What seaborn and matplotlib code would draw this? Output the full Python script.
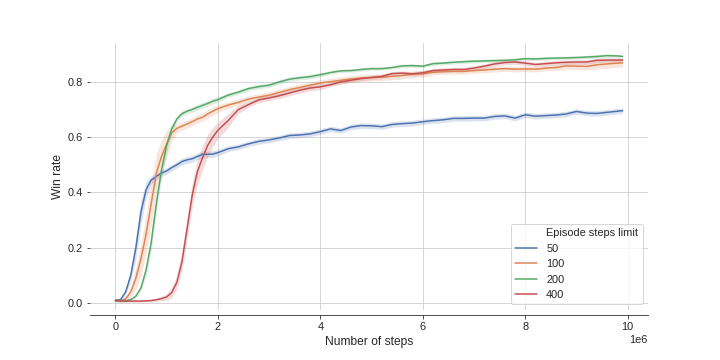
import numpy as np
import pandas as pd
import matplotlib
matplotlib.use("Agg")
import matplotlib.pyplot as plt
from matplotlib.lines import Line2D
import seaborn as sns

# training steps (millions)
steps_m = [0.0, 0.1, 0.2, 0.3, 0.4, 0.5, 0.6, 0.7, 0.8, 0.9, 1.0,
           1.1, 1.2, 1.3, 1.4, 1.5, 1.6, 1.7, 1.8, 1.9, 2.0,
           2.2, 2.4, 2.6, 2.8, 3.0, 3.2, 3.4, 3.6, 3.8, 4.0,
           4.2, 4.4, 4.6, 4.8, 5.0, 5.2, 5.4, 5.6, 5.8, 6.0,
           6.2, 6.4, 6.6, 6.8, 7.0, 7.2, 7.4, 7.6, 7.8, 8.0,
           8.2, 8.4, 8.6, 8.8, 9.0, 9.2, 9.4, 9.6, 9.8, 9.9]

limits = ["50", "100", "200", "400"]

win_50 = [0.010, 0.012, 0.040, 0.100, 0.200, 0.330, 0.410, 0.445, 0.458, 0.470, 0.478,
          0.490, 0.500, 0.512, 0.518, 0.522, 0.530, 0.538, 0.538, 0.539, 0.544,
          0.558, 0.565, 0.576, 0.585, 0.590, 0.597, 0.606, 0.608, 0.612, 0.620,
          0.630, 0.624, 0.637, 0.642, 0.641, 0.638, 0.646, 0.649, 0.651, 0.656,
          0.660, 0.663, 0.668, 0.668, 0.669, 0.669, 0.675, 0.677, 0.669, 0.681,
          0.676, 0.678, 0.680, 0.684, 0.693, 0.687, 0.686, 0.690, 0.694, 0.696]
win_100 = [0.008, 0.008, 0.015, 0.040, 0.090, 0.160, 0.250, 0.360, 0.470, 0.530, 0.575,
           0.615, 0.632, 0.640, 0.648, 0.656, 0.666, 0.672, 0.684, 0.694, 0.703,
           0.716, 0.726, 0.738, 0.745, 0.752, 0.762, 0.772, 0.780, 0.788, 0.796,
           0.801, 0.806, 0.811, 0.814, 0.816, 0.817, 0.820, 0.823, 0.828, 0.829,
           0.835, 0.837, 0.838, 0.838, 0.841, 0.843, 0.846, 0.848, 0.846, 0.847,
           0.846, 0.850, 0.852, 0.858, 0.857, 0.856, 0.862, 0.865, 0.868, 0.869]
win_200 = [0.008, 0.008, 0.008, 0.012, 0.025, 0.055, 0.120, 0.220, 0.360, 0.480, 0.570,
           0.630, 0.666, 0.685, 0.694, 0.700, 0.708, 0.715, 0.722, 0.730, 0.736,
           0.752, 0.763, 0.776, 0.783, 0.788, 0.800, 0.810, 0.815, 0.819, 0.826,
           0.834, 0.840, 0.841, 0.845, 0.848, 0.848, 0.852, 0.858, 0.859, 0.857,
           0.866, 0.868, 0.871, 0.873, 0.875, 0.876, 0.877, 0.878, 0.880, 0.884,
           0.883, 0.885, 0.886, 0.887, 0.888, 0.890, 0.892, 0.895, 0.894, 0.892]
win_400 = [0.010, 0.008, 0.007, 0.007, 0.007, 0.007, 0.008, 0.009, 0.012, 0.016, 0.022,
           0.038, 0.075, 0.150, 0.270, 0.390, 0.475, 0.525, 0.570, 0.600, 0.625,
           0.660, 0.700, 0.718, 0.735, 0.742, 0.750, 0.760, 0.770, 0.778, 0.782,
           0.790, 0.800, 0.806, 0.812, 0.816, 0.820, 0.830, 0.832, 0.829, 0.833,
           0.841, 0.843, 0.845, 0.845, 0.850, 0.857, 0.865, 0.870, 0.872, 0.868,
           0.863, 0.866, 0.869, 0.871, 0.872, 0.872, 0.878, 0.879, 0.879, 0.879]

# half-width of the shaded confidence band
band_50 = [0.005, 0.005, 0.008, 0.020, 0.040, 0.045, 0.030, 0.015, 0.012, 0.012, 0.012,
           0.012, 0.012, 0.012, 0.012, 0.012, 0.012, 0.012, 0.012, 0.012, 0.012,
           0.010, 0.010, 0.010, 0.010, 0.010, 0.010, 0.010, 0.010, 0.010, 0.010,
           0.010, 0.010, 0.010, 0.010, 0.010, 0.010, 0.010, 0.010, 0.010, 0.010,
           0.010, 0.010, 0.010, 0.010, 0.010, 0.010, 0.010, 0.010, 0.010, 0.010,
           0.010, 0.010, 0.010, 0.010, 0.010, 0.010, 0.010, 0.010, 0.010, 0.010]
band_100 = [0.005, 0.005, 0.008, 0.020, 0.040, 0.060, 0.070, 0.080, 0.070, 0.060, 0.050,
            0.030, 0.015, 0.015, 0.015, 0.015, 0.015, 0.015, 0.015, 0.015, 0.015,
            0.012, 0.012, 0.012, 0.012, 0.012, 0.012, 0.012, 0.012, 0.012, 0.012,
            0.012, 0.012, 0.012, 0.012, 0.012, 0.012, 0.012, 0.012, 0.012, 0.012,
            0.010, 0.010, 0.010, 0.010, 0.010, 0.010, 0.010, 0.010, 0.010, 0.010,
            0.010, 0.010, 0.010, 0.012, 0.012, 0.012, 0.015, 0.015, 0.015, 0.015]
band_200 = [0.004, 0.004, 0.004, 0.004, 0.006, 0.010, 0.020, 0.030, 0.030, 0.030, 0.025,
            0.015, 0.010, 0.010, 0.010, 0.010, 0.010, 0.010, 0.010, 0.010, 0.010,
            0.008, 0.008, 0.008, 0.008, 0.008, 0.008, 0.008, 0.008, 0.008, 0.008,
            0.006, 0.006, 0.006, 0.006, 0.006, 0.006, 0.006, 0.006, 0.006, 0.006,
            0.006, 0.006, 0.006, 0.006, 0.006, 0.006, 0.006, 0.006, 0.006, 0.006,
            0.006, 0.006, 0.006, 0.006, 0.006, 0.006, 0.006, 0.006, 0.006, 0.006]
band_400 = [0.004, 0.004, 0.004, 0.004, 0.004, 0.004, 0.004, 0.005, 0.006, 0.008, 0.012,
            0.020, 0.025, 0.035, 0.040, 0.045, 0.045, 0.045, 0.040, 0.035, 0.030,
            0.025, 0.015, 0.010, 0.010, 0.010, 0.010, 0.010, 0.010, 0.010, 0.010,
            0.008, 0.008, 0.008, 0.008, 0.008, 0.008, 0.008, 0.008, 0.008, 0.008,
            0.008, 0.008, 0.008, 0.008, 0.008, 0.008, 0.008, 0.008, 0.008, 0.008,
            0.008, 0.008, 0.008, 0.008, 0.008, 0.008, 0.008, 0.008, 0.008, 0.008]

means = [win_50, win_100, win_200, win_400]
bands = [band_50, band_100, band_200, band_400]

steps = np.array(steps_m) * 1e6
df = pd.concat([
    pd.DataFrame({"steps": steps, "win": m, "lo": np.array(m) - np.array(b),
                  "hi": np.array(m) + np.array(b), "limit": lim})
    for lim, m, b in zip(limits, means, bands)
], ignore_index=True)

sns.set_style("ticks", {"axes.grid": True})
plt.rcParams["font.family"] = ["Liberation Sans", "DejaVu Sans"]
plt.rcParams["font.size"] = 11
palette = sns.color_palette("deep", 4)

fig = plt.figure(figsize=(10, 5), dpi=72)
ax = fig.add_axes([0.125, 0.139, 0.775, 0.741])

sns.lineplot(data=df, x="steps", y="win", hue="limit", hue_order=limits,
             palette=palette, linewidth=1.5, ax=ax)
for lim, c in zip(limits, palette):
    d = df[df["limit"] == lim]
    ax.fill_between(d["steps"], d["lo"], d["hi"], color=c, alpha=0.2, linewidth=0)

ax.set_ylim(-0.025, 0.94)
ax.ticklabel_format(axis="x", style="sci", scilimits=(6, 6))
ax.tick_params(labelsize=11)
ax.set_xlabel("Number of steps", fontsize=12)
ax.set_ylabel("Win rate", fontsize=12)
ax.xaxis.get_offset_text().set_fontsize(11)
sns.despine(ax=ax, left=True, offset={"bottom": 5})

handles, labels = ax.get_legend_handles_labels()
handles = [Line2D([], [], alpha=0)] + handles
labels = ["Episode steps limit"] + labels
ax.legend(handles, labels, loc="lower right", fontsize=11)

fig.savefig("out.png", dpi=72)
